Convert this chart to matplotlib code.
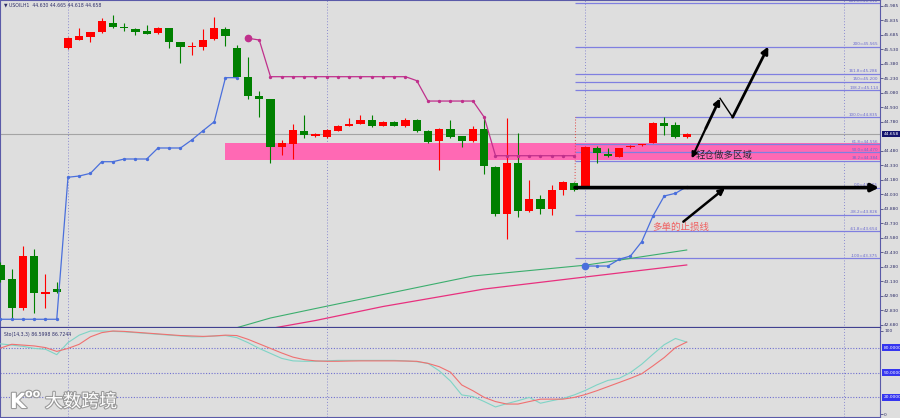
import numpy as np
import matplotlib
matplotlib.use("Agg")
import matplotlib.pyplot as plt
import matplotlib.patheffects as pe
from matplotlib.patches import Rectangle

plt.rcParams['font.family'] = ['DejaVu Sans', 'Noto Sans CJK SC']

# === K线数据 (H1) ===
opens = [43.300, 43.156, 42.856, 43.400, 43.004, 43.052, 45.547, 45.636, 45.664, 45.719,
         45.812, 45.771, 45.750, 45.729, 45.702, 45.757, 45.609, 45.557, 45.564, 45.640,
         45.744, 45.553, 45.253, 45.056, 45.019, 44.528, 44.553, 44.694, 44.642, 44.632,
         44.694, 44.743, 44.763, 44.805, 44.746, 44.781, 44.743, 44.805, 44.694, 44.587,
         44.712, 44.639, 44.587, 44.712, 44.321, 43.832, 44.363, 43.863, 43.984, 43.883,
         44.080, 44.156, 44.125, 44.512, 44.453, 44.425, 44.529, 44.543, 44.570, 44.771,
         44.753, 44.630]
highs = [43.330, 43.259, 43.500, 43.466, 43.211, 43.131, 45.660, 45.754, 45.720, 45.858,
         45.892, 45.806, 45.755, 45.788, 45.764, 45.760, 45.610, 45.609, 45.747, 45.868,
         45.771, 45.581, 45.460, 45.108, 45.020, 44.598, 44.763, 44.857, 44.670, 44.710,
         44.750, 44.829, 44.857, 44.857, 44.790, 44.790, 44.830, 44.810, 44.700, 44.720,
         44.805, 44.640, 44.743, 44.839, 44.330, 44.826, 44.667, 44.184, 44.028, 44.132,
         44.170, 44.160, 44.540, 44.536, 44.512, 44.520, 44.550, 44.560, 44.780, 44.839,
         44.787, 44.665]
lows = [43.130, 42.734, 42.840, 42.810, 42.856, 43.011, 45.540, 45.630, 45.609, 45.710,
        45.760, 45.726, 45.685, 45.690, 45.700, 45.547, 45.392, 45.478, 45.529, 45.635,
        45.574, 45.250, 45.019, 44.839, 44.363, 44.442, 44.398, 44.618, 44.630, 44.620,
        44.690, 44.740, 44.760, 44.735, 44.740, 44.740, 44.735, 44.685, 44.570, 44.287,
        44.620, 44.522, 44.580, 44.243, 43.811, 43.570, 43.804, 43.850, 43.832, 43.821,
        44.028, 44.070, 44.110, 44.360, 44.425, 44.420, 44.520, 44.540, 44.565, 44.650,
        44.620, 44.618]
closes = [43.148, 42.862, 43.397, 43.011, 43.024, 43.027, 45.651, 45.674, 45.716, 45.827,
          45.768, 45.754, 45.719, 45.695, 45.754, 45.609, 45.564, 45.571, 45.633, 45.757,
          45.677, 45.253, 45.056, 45.019, 44.528, 44.564, 44.701, 44.650, 44.660, 44.701,
          44.743, 44.763, 44.805, 44.743, 44.781, 44.746, 44.805, 44.691, 44.580, 44.712,
          44.632, 44.587, 44.709, 44.329, 43.832, 44.363, 43.863, 43.984, 43.883, 44.080,
          44.163, 44.080, 44.528, 44.460, 44.432, 44.512, 44.539, 44.556, 44.771, 44.746,
          44.632, 44.658]

# === 趋势止损线 (三段) ===
trail_a_start = 0
trail_a = [42.742, 42.742, 42.742, 42.742, 42.742, 42.742, 44.212, 44.225, 44.253, 44.373,
           44.373, 44.401, 44.401, 44.401, 44.515, 44.515, 44.515, 44.598, 44.694, 44.787,
           45.243, 45.243]
trail_b_start = 22
trail_b = [45.651, 45.633, 45.253, 45.253, 45.253, 45.253, 45.253, 45.253, 45.253, 45.253,
           45.253, 45.253, 45.253, 45.253, 45.253, 45.212, 45.001, 45.001, 45.001, 45.001,
           45.001, 44.833, 44.435, 44.435, 44.435, 44.435, 44.435, 44.435, 44.435, 44.435]
trail_c_start = 52
trail_c = [43.293, 43.293, 43.293, 43.363, 43.397, 43.545, 43.811, 44.018, 44.046, 44.114]

# === 均线 ===
ma_green_idx = [20, 24, 28, 34, 42, 52, 61]
ma_green = [42.621, 42.755, 42.853, 42.998, 43.190, 43.302, 43.459]
ma_pink_idx = [24, 28, 34, 43, 52, 61]
ma_pink = [42.646, 42.729, 42.874, 43.055, 43.180, 43.304]

# === 斐波那契 ===
fib_names = ['261.8', '200', '161.8', '150', '138.2', '100.0', '61.8', '50.0', '38.2',
             '0.0', '-38.2', '-61.8', '-100']
fib_prices = [46.016, 45.565, 45.286, 45.200, 45.114, 44.835, 44.556, 44.470, 44.384,
              44.105, 43.826, 43.654, 43.375]
fib_x0 = 51.07
zone_x0, zone_lo, zone_hi = 20.0, 44.395, 44.565

# === 随机指标 Sto(14,3,3) ===
sto_k = [84.5, 83, 81.5, 79, 78, 71.5, 86, 95, 100, 100,
         99.5, 99, 98, 97, 96, 95, 94, 93, 93, 94,
         94.5, 92, 86, 79, 73, 67, 64, 63.5, 63.5, 64,
         64.6, 64.6, 64.6, 64.6, 64.6, 64.6, 64, 63, 61, 52,
         39.7, 23, 21, 15, 8.5, 12.5, 16, 20, 13, 16,
         18.7, 23, 28.5, 35, 40.5, 43, 50, 60, 72, 83.5,
         91, 86.6]
sto_d = [79.4, 84, 83, 82, 80, 75.4, 79, 84, 93, 98,
         100, 99.5, 98.5, 97.5, 96.5, 95.5, 94.5, 94, 93.5, 94,
         95, 94.5, 90, 84.5, 79, 73.5, 68.5, 65.5, 64, 63.5,
         63.5, 63.8, 64, 64, 64, 64, 63.8, 63.5, 61, 57,
         50.4, 35, 28, 20, 15, 12, 12, 15, 17.9, 17.9,
         17.9, 20, 23.5, 28, 33, 38, 43, 48.5, 58, 68,
         80, 86.7]
sto_levels = [80, 50, 20]

# 坐标轴刻度
price_ticks = [45.985, 45.835, 45.685, 45.535, 45.385, 45.235, 45.085, 44.935, 44.785,
               44.485, 44.335, 44.185, 44.035, 43.885, 43.735, 43.585, 43.435, 43.285,
               43.135, 42.985, 42.835, 42.685]
price_labels = ['45.985', '45.835', '45.685', '45.530', '45.380', '45.230', '45.080',
                '44.930', '44.780', '44.480', '44.330', '44.180', '44.030', '43.880',
                '43.730', '43.580', '43.430', '43.280', '43.130', '42.980', '42.830',
                '42.680']
grid_idx = [6, 29, 52, 75]

# === 样式 ===
BG = '#dedede'
FRAME = '#5a5aa8'
TXT = '#30306a'
XL = (-0.044, 78.18)

fig = plt.figure(figsize=(9, 4.18), dpi=100, facecolor=BG)
ax = fig.add_axes([0, 1 - 328 / 418, 880 / 900, 328 / 418], facecolor=BG)
axs = fig.add_axes([0, 1 / 418, 880 / 900, 89 / 418], facecolor=BG)

for a in (ax, axs):
    a.set_xlim(*XL)
    a.set_xticks([])
    for s in a.spines.values():
        s.set_color(FRAME)
        s.set_linewidth(0.8)
    a.yaxis.tick_right()
    a.tick_params(axis='y', labelsize=3.2, colors=TXT, length=2, width=0.5, pad=1)
    for gx in grid_idx:
        a.axvline(gx, color='#8a8ad0', lw=0.7, ls=(0, (1, 2)), zorder=1)
ax.spines['bottom'].set_linewidth(1.6)
ax.spines['bottom'].set_color('#404090')
axs.spines['top'].set_visible(False)

# --- 主图 ---
ax.set_ylim(42.6515, 46.047)
ax.set_yticks(price_ticks)
ax.set_yticklabels(price_labels)

ax.add_patch(Rectangle((zone_x0, zone_lo), XL[1] - zone_x0, zone_hi - zone_lo,
                       facecolor='#ff69b4', edgecolor='none', zorder=1.5))

bid = closes[-1]
ax.axhline(bid, color='#a4a4a4', lw=0.8, zorder=2)
ax.text(1.004, bid, f'{bid:.3f}', transform=ax.get_yaxis_transform(), fontsize=3.2,
        color='white', va='center', ha='left', clip_on=False,
        bbox=dict(boxstyle='square,pad=0.25', facecolor='#14146e', edgecolor='none'))

for name, p in zip(fib_names, fib_prices):
    ax.hlines(p, fib_x0, XL[1], color='#7f7fe0', lw=0.9, zorder=2)
    ax.text(0.998, p + 0.004, f'{name}={p:.3f}', transform=ax.get_yaxis_transform(),
            fontsize=3, color='#6a6ad0', ha='right', va='bottom', zorder=2)
ax.plot([fib_x0, fib_x0 + 0.05], [fib_prices[9], fib_prices[5]], color='#e04040',
        lw=0.7, ls=(0, (1, 2)), zorder=2)

ax.plot(ma_green_idx, ma_green, color='#3cae6e', lw=0.8, zorder=2.5)
ax.plot(ma_pink_idx, ma_pink, color='#e8307e', lw=0.9, zorder=2.5)

idx = np.arange(len(opens))
o, h, l, c = (np.array(v) for v in (opens, highs, lows, closes))
col = np.where(c >= o, '#ff0000', '#008000')
ax.vlines(idx, l, h, colors=col, lw=0.8, zorder=3)
ax.bar(idx, np.maximum(np.abs(c - o), 0.01), bottom=np.minimum(o, c), width=0.74,
       color=col, edgecolor='none', zorder=4)

for start, vals, cl in ((trail_a_start, trail_a, '#4a6fdc'),
                        (trail_b_start, trail_b, '#c0308c'),
                        (trail_c_start, trail_c, '#4a6fdc')):
    xs = np.arange(start, start + len(vals))
    ax.plot(xs, vals, color=cl, lw=0.9, marker='o', ms=1.4, zorder=5)
ax.plot(trail_b_start, trail_b[0], 'o', ms=4.5, color='#c0308c', zorder=5)
ax.plot(trail_c_start, trail_c[0], 'o', ms=4.5, color='#4a6fdc', zorder=5)

def arrow(p0, p1, lw=2.0, ms=9):
    ax.annotate('', xy=p1, xytext=p0, zorder=6,
                arrowprops=dict(arrowstyle='-|>', color='black', lw=lw,
                                mutation_scale=ms, shrinkA=0, shrinkB=0))

arrow((fib_x0, fib_prices[9]), (78.1, fib_prices[9]), lw=2.6, ms=11)
arrow((60.7, 43.752), (64.4, 44.10), lw=1.8, ms=9)
arrow((62.7, 44.72), (61.44, 44.408), lw=1.6, ms=8)
arrow((62.7, 44.72), (63.96, 45.029), lw=2.0, ms=9)
ax.plot([63.96, 65.08], [45.029, 44.833], color='black', lw=1.0, zorder=6)
arrow((65.08, 44.833), (68.25, 45.565), lw=2.0, ms=10)

ax.text(61.8, 44.435, '轻仓做多区域', fontsize=6.8, color='#302838', va='center',
        ha='left', family=['Noto Sans CJK SC'], zorder=7)
ax.text(57.9, 43.692, '多单的止损线', fontsize=6.8, color='#f06060', va='center',
        ha='left', family=['Noto Sans CJK SC'], zorder=7)
ax.text(0.004, 0.984, f'\u25bc USOILH1  {opens[-1]:.3f} {highs[-1]:.3f} {lows[-1]:.3f} {closes[-1]:.3f}',
        transform=ax.transAxes, fontsize=3.3, color=TXT, va='center', ha='left')

# --- 副图 ---
axs.set_ylim(-3.6, 103.6)
axs.set_yticks([100, 0])
axs.set_yticklabels(['100', '0'])
for lv in sto_levels:
    axs.axhline(lv, color='#7070d0', lw=0.8, ls=(0, (1, 1.5)), zorder=1)
    axs.text(1.004, lv, f'{lv:.4f}', transform=axs.get_yaxis_transform(), fontsize=3.2,
             color='white', va='center', ha='left', clip_on=False,
             bbox=dict(boxstyle='square,pad=0.25', facecolor='#3535f0', edgecolor='none'))
axs.plot(idx, sto_k, color='#7fd4c6', lw=0.8, zorder=3)
axs.plot(idx, sto_d, color='#f07070', lw=0.8, zorder=3)
axs.text(0.004, 0.93, f'Sto(14,3,3) 86.5998 86.7244', transform=axs.transAxes,
         fontsize=3.3, color=TXT, va='center', ha='left')

# --- 水印 ---
shadow = [pe.withStroke(linewidth=1.6, foreground='#9a9a9a')]
fig.text(10 / 900, 1 - 402 / 418, 'K', fontsize=15, color='white', weight='bold',
         va='center', ha='left', path_effects=shadow)
fig.text(25 / 900, 1 - 394 / 418, 'oo', fontsize=8, color='white', weight='bold',
         va='center', ha='left', path_effects=shadow)
fig.text(45 / 900, 1 - 402 / 418, '大数跨境', fontsize=13, color='white',
         family=['Noto Sans CJK SC'], va='center', ha='left', path_effects=shadow)

fig.savefig('out.png', dpi=100, facecolor=BG)
